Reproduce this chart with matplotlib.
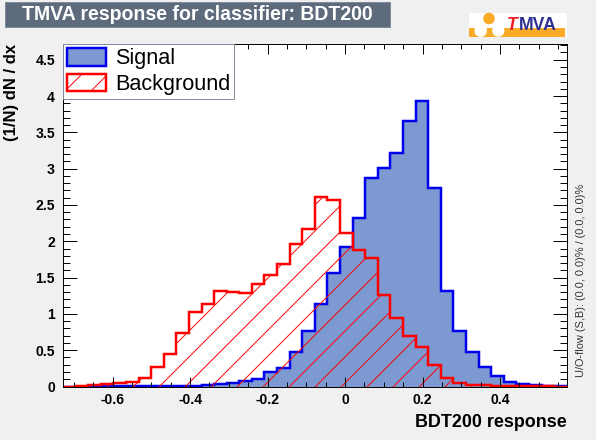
import numpy as np
import matplotlib
matplotlib.use("Agg")
import matplotlib.pyplot as plt
from matplotlib.patches import Patch, Rectangle, Circle
from matplotlib.ticker import MultipleLocator

# histogram range and binning
x_min, x_max = -0.728, 0.572
n_bins = 40

# normalised BDT response, read bin by bin
signal = [0.0, 0.0, 0.0, 0.002, 0.003, 0.005, 0.005, 0.008, 0.008, 0.01,
          0.01, 0.02, 0.04, 0.05, 0.07, 0.11, 0.20, 0.26, 0.48, 0.77,
          1.14, 1.56, 1.92, 2.32, 2.87, 3.01, 3.22, 3.65, 3.93, 2.73,
          1.31, 0.76, 0.48, 0.27, 0.15, 0.06, 0.03, 0.015, 0.005, 0.003]
background = [0.0, 0.005, 0.02, 0.03, 0.045, 0.06, 0.12, 0.27, 0.45, 0.73,
              1.02, 1.13, 1.32, 1.30, 1.29, 1.41, 1.53, 1.69, 1.96, 2.17,
              2.61, 2.57, 2.12, 1.88, 1.77, 1.26, 0.95, 0.70, 0.54, 0.29,
              0.12, 0.045, 0.025, 0.015, 0.008, 0.005, 0.003, 0.002, 0.001, 0.0]

xtick_vals = [-0.6, -0.4, -0.2, 0, 0.2, 0.4]
xtick_labels = ["-0.6", "-0.4", "-0.2", "0", "0.2", "0.4"]
ytick_vals = [0, 0.5, 1, 1.5, 2, 2.5, 3, 3.5, 4, 4.5]
ytick_labels = ["0", "0.5", "1", "1.5", "2", "2.5", "3", "3.5", "4", "4.5"]

title = "TMVA response for classifier: BDT200"
uoflow = "U/O-flow (S,B): (0.0, 0.0)% / (0.0, 0.0)%"

# TMVA style colours
c_sig_fill = "#7d99d1"
c_sig_line = "#0000ee"
c_bkg = "#ff0000"
c_canvas = "#f0f0f0"
c_titlebox = "#5d6b7d"
c_border = "#7d8b9d"

DPI = 78  # hatch spacing of '/' follows the dpi
W, H = 596, 440

plt.rcParams["font.family"] = ["Liberation Sans", "DejaVu Sans"]
plt.rcParams["hatch.linewidth"] = 0.9

fig = plt.figure(figsize=(W / DPI, H / DPI), dpi=DPI, facecolor=c_canvas)
ax = fig.add_axes([63 / W, 1 - 386.5 / H, 503.7 / W, 342.5 / H])
ax.set_facecolor("white")

edges = np.linspace(x_min, x_max, n_bins + 1)
ax.stairs(signal, edges, fill=True, facecolor=c_sig_fill, linewidth=0)
ax.stairs(signal, edges, color=c_sig_line, linewidth=2.3)
ax.stairs(background, edges, fill=True, facecolor="none", edgecolor=c_bkg,
          hatch="/", linewidth=0)
ax.stairs(background, edges, color=c_bkg, linewidth=2.3)

ax.set_xlim(x_min, x_max)
ax.set_ylim(0, 4.717)
ax.set_xticks(xtick_vals, xtick_labels)
ax.xaxis.set_minor_locator(MultipleLocator(0.05))
ax.set_yticks(ytick_vals, ytick_labels)
ax.yaxis.set_minor_locator(MultipleLocator(0.1))
ax.tick_params(which="both", direction="in", top=True, right=True,
               width=0.9, labelsize=12.9)
ax.tick_params(axis="x", which="major", length=9.2, pad=6)
ax.tick_params(axis="x", which="minor", length=4.6)
ax.tick_params(axis="y", which="major", length=12.9, pad=7.4)
ax.tick_params(axis="y", which="minor", length=6.5)
for lab in ax.get_xticklabels() + ax.get_yticklabels():
    lab.set_fontweight("bold")
for sp in ax.spines.values():
    sp.set_linewidth(0.9)

ax.set_xlabel("BDT200 response", fontsize=16.5, fontweight="bold",
              loc="right", labelpad=6)
fig.text(11.7 / W, 1 - 44 / H, "(1/N) dN / dx", rotation=90, ha="center",
         va="top", fontsize=15.3, fontweight="bold")
fig.text(580.5 / W, 1 - 377 / H, uoflow, rotation=90, ha="center",
         va="bottom", fontsize=10.2, color="#333333")

# legend
handles = [Patch(facecolor=c_sig_fill, edgecolor=c_sig_line, linewidth=2.3),
           Patch(facecolor="white", edgecolor=c_bkg, hatch="/", linewidth=2.3)]
leg = ax.legend(handles, ["Signal", "Background"], loc="upper left",
                bbox_to_anchor=(0, 1), borderaxespad=0, fancybox=False,
                edgecolor=c_border, framealpha=1, fontsize=20,
                handlelength=1.8, handleheight=0.88, handletextpad=0.42,
                borderpad=0.18, labelspacing=0.2)
leg.get_frame().set_linewidth(0.9)

# title box
t = fig.text(22 / W, 1 - 14.5 / H, title, color="white", fontsize=18,
             fontweight="bold", ha="left", va="center", zorder=5)
fig.canvas.draw()
bb = t.get_window_extent()
fig.add_artist(Rectangle((5 / W, 1 - 27 / H), (bb.x1 + 17 - 5) / W, 25 / H,
                         transform=fig.transFigure, facecolor=c_titlebox,
                         edgecolor=c_border, linewidth=0.9, zorder=1))

# TMVA logo
lg = fig.add_axes([469 / W, 1 - 37.5 / H, 98 / W, 25 / H])
lg.set_xlim(469, 567)
lg.set_ylim(37.5, 12.5)
lg.axis("off")
orange = "#fbaa27"
lg.add_patch(Rectangle((469, 12.7), 97.7, 24.6, facecolor="white", linewidth=0))
lg.add_patch(Rectangle((469, 28.3), 96, 9, facecolor=orange, linewidth=0))
lg.add_patch(Circle((489, 18.5), 5.8, facecolor=orange, linewidth=0))
lg.add_patch(Circle((480.7, 30.7), 6.3, facecolor="white", linewidth=0))
lg.add_patch(Circle((498.3, 30.7), 6.1, facecolor="white", linewidth=0))
lg.text(507, 30, "T", color="#ee1c24", fontsize=16.3, fontweight="bold",
        style="italic", va="baseline")
lg.text(519, 30, "MVA", color="#2e3192", fontsize=16.3, fontweight="bold",
        va="baseline")

fig.savefig("out.png", dpi=DPI, facecolor=fig.get_facecolor())
